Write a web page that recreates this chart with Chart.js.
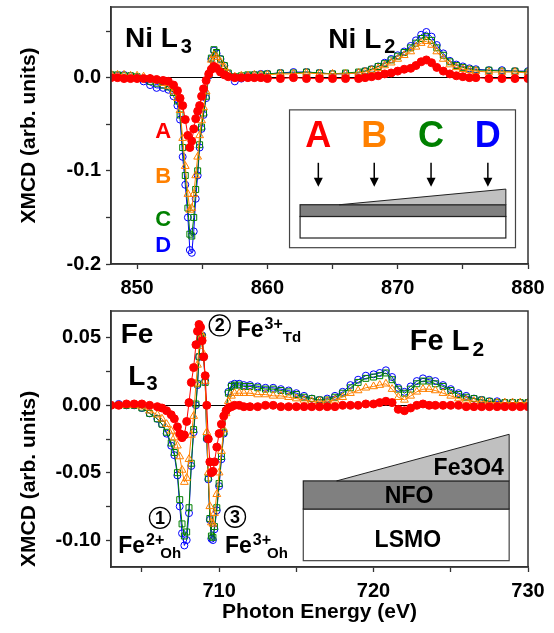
<!DOCTYPE html>
<html lang="en">
<head>
<meta charset="UTF-8">
<title>XMCD Ni and Fe L edges</title>
<script src="https://cdn.jsdelivr.net/npm/chart.js"></script>
<style>
  body { margin: 0; background: #fff; }
  #wrap { position: relative; width: 554px; height: 633px; }
  canvas { position: absolute; left: 0; }
</style>
</head>
<body>
<div id="wrap">
  <canvas id="niChart" width="554" height="300" style="top:0"></canvas>
  <canvas id="feChart" width="554" height="333" style="top:300px"></canvas>
</div>
<script>
// Ni L2,3 edge: photon energy (eV) and XMCD for samples A-D
const niEnergy = [
  848, 848.5, 849, 849.5, 850, 850.5, 851, 851.5, 852, 852.4,
  852.8, 853.1, 853.3, 853.5, 853.7, 853.9, 854.05, 854.2, 854.35, 854.5,
  854.65, 854.8, 854.95, 855.1, 855.3, 855.5, 855.7, 855.9, 856.1, 856.4,
  856.7, 857, 857.5, 858, 858.5, 859, 859.5, 860, 861, 862,
  863, 864, 865, 866, 867, 867.5, 868, 868.5, 869, 869.5,
  870, 870.5, 871, 871.4, 871.8, 872.2, 872.6, 873, 873.5, 874,
  874.5, 875, 875.5, 876, 877, 878, 879, 880];
const niA = [
  0.000, 0.000, -0.001, -0.001, -0.001, -0.001, -0.001, -0.002, -0.003, -0.004,
  -0.008, -0.014, -0.022, -0.030, -0.045, -0.062, -0.075, -0.068, -0.055, -0.044,
  -0.036, -0.030, -0.020, -0.012, -0.003, 0.004, 0.009, 0.012, 0.010, 0.006,
  0.003, 0.001, 0.000, 0.000, 0.000, 0.000, 0.000, -0.001, -0.001, 0.000,
  -0.001, -0.001, -0.001, -0.001, -0.001, 0.000, 0.001, 0.002, 0.004, 0.005,
  0.007, 0.009, 0.010, 0.013, 0.017, 0.019, 0.016, 0.011, 0.007, 0.004,
  0.002, 0.001, 0.000, 0.000, -0.001, -0.001, -0.001, -0.001];
const niB = [
  0.004, 0.003, 0.003, 0.002, 0.002, 0.001, -0.001, -0.003, -0.006, -0.009,
  -0.015, -0.022, -0.035, -0.065, -0.095, -0.125, -0.142, -0.140, -0.125, -0.105,
  -0.085, -0.062, -0.046, -0.032, -0.015, 0.005, 0.019, 0.024, 0.022, 0.017,
  0.011, 0.004, 0.001, 0.002, 0.002, 0.003, 0.003, 0.003, 0.004, 0.004,
  0.005, 0.004, 0.004, 0.004, 0.005, 0.006, 0.008, 0.010, 0.013, 0.016,
  0.020, 0.024, 0.028, 0.033, 0.037, 0.039, 0.035, 0.028, 0.020, 0.014,
  0.011, 0.009, 0.008, 0.007, 0.006, 0.006, 0.006, 0.005];
const niC = [
  0.003, 0.003, 0.002, 0.002, 0.001, -0.001, -0.004, -0.006, -0.008, -0.010,
  -0.016, -0.025, -0.040, -0.075, -0.105, -0.140, -0.168, -0.170, -0.150, -0.120,
  -0.100, -0.072, -0.053, -0.038, -0.020, 0.003, 0.021, 0.030, 0.027, 0.020,
  0.013, 0.005, 0.001, 0.002, 0.003, 0.003, 0.003, 0.004, 0.005, 0.005,
  0.006, 0.005, 0.004, 0.005, 0.006, 0.007, 0.009, 0.012, 0.015, 0.019,
  0.023, 0.027, 0.032, 0.037, 0.042, 0.044, 0.040, 0.032, 0.024, 0.017,
  0.013, 0.011, 0.009, 0.008, 0.008, 0.007, 0.007, 0.006];
const niD = [
  0.003, 0.002, 0.003, 0.002, 0.000, -0.004, -0.008, -0.011, -0.011, -0.013,
  -0.020, -0.030, -0.045, -0.085, -0.115, -0.150, -0.185, -0.188, -0.165, -0.130,
  -0.105, -0.075, -0.055, -0.040, -0.022, 0.002, 0.020, 0.029, 0.026, 0.020,
  0.013, 0.004, -0.004, -0.001, 0.002, 0.003, 0.004, 0.004, 0.005, 0.006,
  0.006, 0.005, 0.004, 0.004, 0.005, 0.007, 0.009, 0.012, 0.016, 0.020,
  0.024, 0.028, 0.034, 0.040, 0.046, 0.049, 0.044, 0.035, 0.026, 0.018,
  0.014, 0.012, 0.010, 0.009, 0.008, 0.008, 0.007, 0.007];

// Fe L2,3 edge
const feEnergy = [
  703, 703.5, 704, 704.5, 705, 705.5, 706, 706.3, 706.6, 706.9,
  707.1, 707.3, 707.45, 707.6, 707.75, 707.9, 708.05, 708.2, 708.35, 708.5,
  708.6, 708.7, 708.8, 708.9, 709.0, 709.1, 709.2, 709.3, 709.4, 709.5,
  709.6, 709.7, 709.85, 710.0, 710.15, 710.3, 710.45, 710.6, 710.8, 711.0,
  711.3, 711.6, 712, 712.5, 713, 713.5, 714, 714.5, 715, 715.5,
  716, 716.5, 717, 717.5, 718, 718.5, 719, 719.5, 720, 720.4,
  720.8, 721.2, 721.6, 722, 722.4, 722.8, 723.2, 723.6, 724, 724.5,
  725, 725.5, 726, 726.5, 727, 727.5, 728, 728.5, 729, 729.5, 730];
const feA = [
  0.000, 0.000, 0.001, 0.001, 0.001, 0.000, -0.001, -0.002, -0.004, -0.007,
  -0.010, -0.016, -0.021, -0.024, -0.022, -0.012, 0.002, 0.017, 0.028, 0.045,
  0.055, 0.060, 0.058, 0.048, 0.036, 0.022, 0.000, -0.025, -0.042, -0.050,
  -0.049, -0.042, -0.031, -0.021, -0.014, -0.008, -0.004, -0.002, -0.001, 0.000,
  0.000, -0.001, -0.001, -0.001, 0.000, 0.000, -0.001, -0.001, -0.001, -0.001,
  -0.001, -0.001, -0.001, -0.001, 0.000, 0.000, 0.000, 0.001, 0.001, 0.002,
  0.003, 0.002, -0.003, -0.004, -0.002, 0.000, 0.001, 0.000, 0.000, 0.000,
  0.000, 0.000, -0.001, -0.001, -0.001, -0.001, -0.001, -0.001, -0.001, -0.001, -0.001];
const feB = [
  0.000, 0.000, 0.000, 0.000, -0.001, -0.004, -0.007, -0.010, -0.014, -0.019,
  -0.024, -0.030, -0.038, -0.048, -0.057, -0.054, -0.040, -0.022, -0.008, 0.016,
  0.030, 0.044, 0.054, 0.052, 0.038, 0.018, -0.020, -0.050, -0.075, -0.087,
  -0.088, -0.080, -0.066, -0.050, -0.034, -0.018, -0.006, 0.003, 0.007, 0.009,
  0.009, 0.009, 0.009, 0.008, 0.008, 0.007, 0.007, 0.006, 0.005, 0.004,
  0.003, 0.003, 0.003, 0.004, 0.006, 0.009, 0.011, 0.013, 0.014, 0.015,
  0.016, 0.012, 0.006, 0.004, 0.007, 0.010, 0.012, 0.012, 0.011, 0.009,
  0.007, 0.005, 0.004, 0.003, 0.003, 0.002, 0.002, 0.002, 0.002, 0.002, 0.002];
const feC = [
  0.000, 0.000, 0.000, 0.000, -0.002, -0.006, -0.010, -0.014, -0.020, -0.028,
  -0.035, -0.050, -0.070, -0.088, -0.097, -0.094, -0.076, -0.043, -0.018, 0.001,
  0.016, 0.036, 0.050, 0.051, 0.036, 0.017, -0.024, -0.054, -0.084, -0.097,
  -0.098, -0.090, -0.076, -0.058, -0.038, -0.020, -0.004, 0.009, 0.014, 0.015,
  0.015, 0.014, 0.014, 0.013, 0.012, 0.012, 0.011, 0.010, 0.008, 0.006,
  0.005, 0.004, 0.004, 0.006, 0.009, 0.013, 0.017, 0.020, 0.021, 0.022,
  0.024, 0.019, 0.012, 0.009, 0.012, 0.016, 0.018, 0.018, 0.016, 0.014,
  0.011, 0.008, 0.006, 0.005, 0.004, 0.003, 0.002, 0.002, 0.002, 0.002, 0.002];
const feD = [
  0.000, 0.001, 0.000, 0.000, -0.002, -0.006, -0.010, -0.014, -0.021, -0.030,
  -0.037, -0.052, -0.075, -0.095, -0.104, -0.100, -0.080, -0.045, -0.020, 0.000,
  0.015, 0.036, 0.050, 0.052, 0.036, 0.018, -0.025, -0.055, -0.085, -0.099,
  -0.100, -0.092, -0.078, -0.060, -0.040, -0.021, -0.004, 0.010, 0.015, 0.016,
  0.016, 0.015, 0.015, 0.014, 0.013, 0.013, 0.012, 0.011, 0.009, 0.007,
  0.005, 0.004, 0.005, 0.007, 0.010, 0.015, 0.019, 0.022, 0.023, 0.024,
  0.026, 0.021, 0.013, 0.010, 0.014, 0.018, 0.020, 0.019, 0.018, 0.015,
  0.012, 0.009, 0.007, 0.005, 0.004, 0.003, 0.003, 0.002, 0.002, 0.002, 0.002];

// ticks
const niXTicks = [850, 855, 860, 865, 870, 875, 880];
const niXLabels = ['850', '', '860', '', '870', '', '880'];
const niYTicks = [-0.2, -0.15, -0.1, -0.05, 0, 0.05];
const niYLabels = ['-0.2', '', '-0.1', '', '0.0', ''];
const feXTicks = [705, 710, 715, 720, 725, 730];
const feXLabels = ['', '710', '', '720', '', '730'];
const feYTicks = [-0.1, -0.075, -0.05, -0.025, 0, 0.025, 0.05];
const feYLabels = ['-0.10', '', '-0.05', '', '0.00', '', '0.05'];

const FONT = '"Liberation Sans", Arial, sans-serif';
const RED = '#ff0000', ORANGE = '#ff8000', GREEN = '#008000', BLUE = '#0000ff';

function makeDatasets(energy, a, b, c, d) {
    const spec = [
        {label: 'A', values: a, color: RED, style: 'circle', radius: 4, fill: true},
        {label: 'B', values: b, color: ORANGE, style: 'triangle', radius: 4.5},
        {label: 'C', values: c, color: GREEN, style: 'rect', radius: 4.2},
        {label: 'D', values: d, color: BLUE, style: 'circle', radius: 3.5}
    ];
    return spec.map(s => ({
        label: s.label,
        data: energy.map((e, i) => ({x: e, y: s.values[i]})),
        showLine: true,
        borderColor: s.color,
        borderWidth: 1,
        pointStyle: s.style,
        pointRadius: s.radius,
        pointBorderColor: s.color,
        pointBorderWidth: 1,
        pointBackgroundColor: s.fill ? s.color : 'rgba(0,0,0,0)'
    }));
}

// size is the forced axis width (y) or height (x); the label margins are dropped
// so that the layout padding alone places the plot area
function axisOptions(range, ticks, labels, vertical, size, extra) {
    return Object.assign({
        type: 'linear',
        min: range[0], max: range[1],
        afterBuildTicks: s => { s.ticks = ticks.map(v => ({value: v})); },
        ticks: {
            autoSkip: false, color: '#000', padding: vertical ? 5 : 7,
            font: {family: FONT, size: 20, weight: 'bold'},
            callback: (v, i) => labels[i]
        },
        grid: {
            drawOnChartArea: vertical, tickLength: 5, tickColor: '#333', tickWidth: 1.3,
            color: c => (c.tick && c.tick.value === 0) ? '#000' : 'rgba(0,0,0,0)'
        },
        border: {color: '#333', width: 1.5},
        afterFit: s => {
            if (vertical) s.width = size; else s.height = size;
            s.paddingTop = 0; s.paddingBottom = 0; s.paddingLeft = 0; s.paddingRight = 0;
        }
    }, extra || {});
}

// draw text made of [text, size, dy, gapAfter] parts
function rich(ctx, x, y, parts, align) {
    let w = 0;
    parts.forEach(p => { ctx.font = 'bold ' + p[1] + 'px ' + FONT; w += ctx.measureText(p[0]).width + (p[3] || 0); });
    let cx = align === 'center' ? x - w / 2 : align === 'right' ? x - w : x;
    ctx.textAlign = 'left';
    ctx.textBaseline = 'alphabetic';
    parts.forEach(p => {
        ctx.font = 'bold ' + p[1] + 'px ' + FONT;
        ctx.fillText(p[0], cx, y + (p[2] || 0));
        cx += ctx.measureText(p[0]).width + (p[3] || 0);
    });
}

function frame() {
    return {
        id: 'frame',
        afterDraw(chart) {
            const {ctx, chartArea: a} = chart;
            ctx.save();
            ctx.strokeStyle = '#333';
            ctx.lineWidth = 1.5;
            ctx.strokeRect(a.left, a.top, a.right - a.left, a.bottom - a.top);
            ctx.restore();
        }
    };
}

function notes(draw) {
    return {
        id: 'notes',
        afterDatasetsDraw(chart) {
            const {ctx, scales: {x, y}} = chart;
            const px = v => x.getPixelForValue(v), py = v => y.getPixelForValue(v);
            ctx.save();
            ctx.fillStyle = '#000';
            draw(ctx, px, py);
            ctx.restore();
        }
    };
}

function box(ctx, px, py, x1, y1, x2, y2, fill, stroke) {
    ctx.fillStyle = fill;
    ctx.fillRect(px(x1), py(y1), px(x2) - px(x1), py(y2) - py(y1));
    ctx.strokeStyle = stroke;
    ctx.lineWidth = 1.2;
    ctx.strokeRect(px(x1), py(y1), px(x2) - px(x1), py(y2) - py(y1));
}

function wedge(ctx, px, py, x1, y1, x2, y2) {
    ctx.beginPath();
    ctx.moveTo(px(x1), py(y1));
    ctx.lineTo(px(x2), py(y2));
    ctx.lineTo(px(x2), py(y1));
    ctx.closePath();
    ctx.fillStyle = '#c0c0c0';
    ctx.fill();
    ctx.strokeStyle = '#222';
    ctx.lineWidth = 1;
    ctx.stroke();
}

function circled(ctx, cx, cy, n) {
    ctx.beginPath();
    ctx.arc(cx, cy, 10.5, 0, 2 * Math.PI);
    ctx.strokeStyle = '#000';
    ctx.lineWidth = 1.3;
    ctx.stroke();
    ctx.font = 'bold 18px ' + FONT;
    ctx.textAlign = 'center';
    ctx.textBaseline = 'middle';
    ctx.fillStyle = '#000';
    ctx.fillText(n, cx, cy + 1);
}

const niNotes = notes((ctx, px, py) => {
    rich(ctx, px(849.07), py(0.033), [['Ni L', 28, 0, 3], ['3', 20, 6]]);
    rich(ctx, px(864.68), py(0.032), [['Ni L', 28, 0, 3], ['2', 20, 5]]);
    ctx.textAlign = 'center';
    ctx.textBaseline = 'middle';
    ctx.font = 'bold 22px ' + FONT;
    [['A', RED, -0.058], ['B', ORANGE, -0.107], ['C', GREEN, -0.153], ['D', BLUE, -0.181]].forEach(t => {
        ctx.fillStyle = t[1];
        ctx.fillText(t[0], px(852.0), py(t[2]));
    });
    // sketch of the sample
    box(ctx, px, py, 861.7, -0.0346, 879.04, -0.1825, '#fff', '#444');
    const cols = [['A', RED, 863.91], ['B', ORANGE, 868.2], ['C', GREEN, 872.56], ['D', BLUE, 876.92]];
    cols.forEach(t => {
        ctx.font = 'bold 36px ' + FONT;
        ctx.textAlign = 'center';
        ctx.textBaseline = 'middle';
        ctx.fillStyle = t[1];
        ctx.fillText(t[0], px(t[2]), py(-0.0636));
        const ax = px(t[2]), y1 = py(-0.0914), y2 = py(-0.1171);
        ctx.strokeStyle = '#000';
        ctx.lineWidth = 1.5;
        ctx.beginPath();
        ctx.moveTo(ax, y1);
        ctx.lineTo(ax, y2 - 6);
        ctx.stroke();
        ctx.fillStyle = '#000';
        ctx.beginPath();
        ctx.moveTo(ax - 4.5, y2 - 9);
        ctx.lineTo(ax + 4.5, y2 - 9);
        ctx.lineTo(ax, y2);
        ctx.closePath();
        ctx.fill();
    });
    box(ctx, px, py, 862.51, -0.149, 878.3, -0.1721, '#fff', '#222');
    box(ctx, px, py, 862.51, -0.1364, 878.3, -0.149, '#808080', '#222');
    wedge(ctx, px, py, 865.52, -0.1364, 878.3, -0.1196);
});

const feNotes = notes((ctx, px, py) => {
    rich(ctx, px(703.63), py(0.0459), [['Fe', 28]]);
    rich(ctx, px(704.12), py(0.0148), [['L', 28, 0, 1], ['3', 20, 5]]);
    rich(ctx, px(722.35), py(0.0407), [['Fe L', 29, 0, 3], ['2', 21, 6]]);
    circled(ctx, px(706.17), py(-0.0835), '1');
    circled(ctx, px(710.04), py(0.0593), '2');
    circled(ctx, px(711.03), py(-0.0827), '3');
    ctx.fillStyle = '#000';
    rich(ctx, px(703.47), py(-0.1099), [['Fe', 23, 0, 1], ['2+', 16, -8, -4], ['Oh', 15, 5]]);
    rich(ctx, px(710.38), py(-0.1096), [['Fe', 23, 0, 1], ['3+', 16, -8, -4], ['Oh', 15, 5]]);
    rich(ctx, px(711.14), py(0.0506), [['Fe', 23, 0, 1], ['3+', 16, -8, 0], ['Td', 15, 5]]);
    // layer stack
    box(ctx, px, py, 715.45, -0.077, 728.78, -0.1153, '#fff', '#444');
    box(ctx, px, py, 715.45, -0.0561, 728.78, -0.077, '#808080', '#222');
    wedge(ctx, px, py, 717.61, -0.0561, 728.78, -0.0215);
    ctx.fillStyle = '#000';
    rich(ctx, px(728.44), py(-0.0519), [['Fe3O4', 23]], 'right');
    rich(ctx, px(722.3), py(-0.0728), [['NFO', 23]], 'center');
    rich(ctx, px(722.22), py(-0.105), [['LSMO', 23]], 'center');
});

const titleFont = {family: FONT, size: 21, weight: 'bold'};

new Chart(document.getElementById('niChart'), {
    type: 'scatter',
    data: {datasets: makeDatasets(niEnergy, niA, niB, niC, niD)},
    options: {
        responsive: false, animation: false, devicePixelRatio: 1,
        layout: {padding: {top: 7, right: 26, left: 0, bottom: 0}},
        plugins: {legend: {display: false}, tooltip: {enabled: false}},
        scales: {
            x: axisOptions([848, 880], niXTicks, niXLabels, false, 36),
            y: axisOptions([-0.2, 0.0758], niYTicks, niYLabels, true, 111, {
                title: {display: true, text: 'XMCD (arb. units)', color: '#000', font: titleFont, padding: {top: 17}}
            })
        }
    },
    plugins: [niNotes, frame()]
});

new Chart(document.getElementById('feChart'), {
    type: 'scatter',
    data: {datasets: makeDatasets(feEnergy, feA, feB, feC, feD)},
    options: {
        responsive: false, animation: false, devicePixelRatio: 1,
        layout: {padding: {top: 11, right: 26, left: 0, bottom: 0}},
        plugins: {legend: {display: false}, tooltip: {enabled: false}},
        scales: {
            x: axisOptions([703, 730], feXTicks, feXLabels, false, 66, {
                title: {display: true, text: 'Photon Energy (eV)', color: '#000', font: titleFont, padding: {bottom: 8}}
            }),
            y: axisOptions([-0.12, 0.07], feYTicks, feYLabels, true, 111, {
                title: {display: true, text: 'XMCD (arb. units)', color: '#000', font: titleFont, align: 'start', padding: {top: 17}}
            })
        }
    },
    plugins: [feNotes, frame()]
});
</script>
</body>
</html>
